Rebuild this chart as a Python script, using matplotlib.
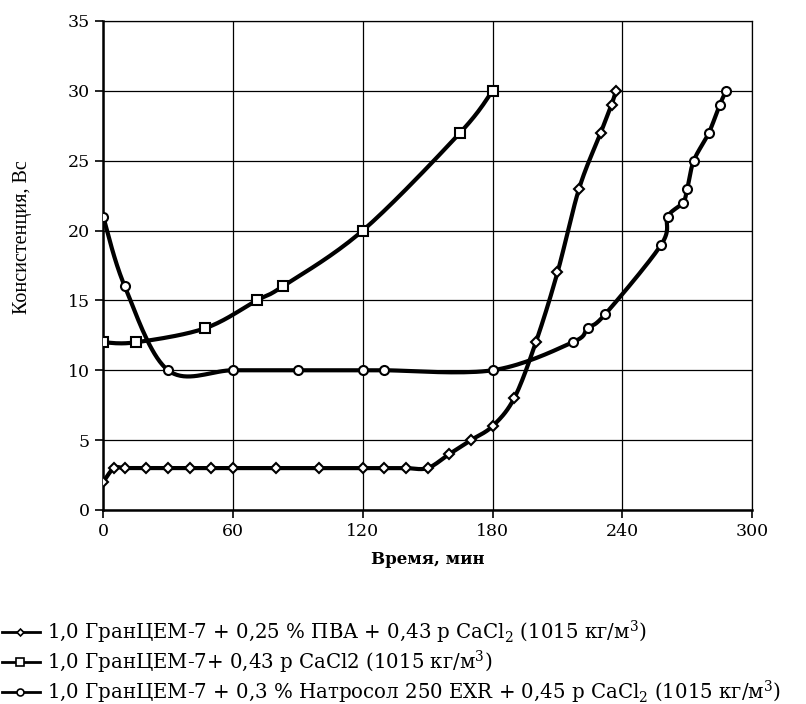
import matplotlib
matplotlib.use('Agg')
import matplotlib.pyplot as plt
from matplotlib.lines import Line2D
import numpy as np

plt.rcParams['font.family'] = ['DejaVu Serif']
plt.rcParams['mathtext.fontset'] = 'dejavuserif'

# ПВА series (diamonds)
t_pva = [0, 5, 10, 20, 30, 40, 50, 60, 80, 100, 120, 130, 140, 150,
         160, 170, 180, 190, 200, 210, 220, 230, 235, 237]
c_pva = [2, 3, 3, 3, 3, 3, 3, 3, 3, 3, 3, 3, 3, 3,
         4, 5, 6, 8, 12, 17, 23, 27, 29, 30]

# CaCl2 only (squares)
t_cacl = [0, 15, 47, 71, 83, 120, 165, 180]
c_cacl = [12, 12, 13, 15, 16, 20, 27, 30]

# Натросол series (circles)
t_nat = [0, 10, 30, 60, 90, 120, 130, 180, 217, 224, 232,
         258, 261, 268, 270, 273, 280, 285, 288]
c_nat = [21, 16, 10, 10, 10, 10, 10, 10, 12, 13, 14,
         19, 21, 22, 23, 25, 27, 29, 30]

labels = [
    '1,0 ГранЦЕМ-7 + 0,25 % ПВА + 0,43 р CaCl$_2$ (1015 кг/м$^3$)',
    '1,0 ГранЦЕМ-7+ 0,43 р CaCl2 (1015 кг/м$^3$)',
    '1,0 ГранЦЕМ-7 + 0,3 % Натросол 250 EXR + 0,45 р CaCl$_2$ (1015 кг/м$^3$)',
]


def smooth(x, y, n=20):
    # Excel-like smoothed line (Catmull-Rom through the points)
    x = np.asarray(x, float)
    y = np.asarray(y, float)
    px = np.concatenate([[x[0]], x, [x[-1]]])
    py = np.concatenate([[y[0]], y, [y[-1]]])
    xs, ys = [], []
    for i in range(1, len(px) - 2):
        p0, p1, p2, p3 = px[i-1], px[i], px[i+1], px[i+2]
        q0, q1, q2, q3 = py[i-1], py[i], py[i+1], py[i+2]
        b1x, b1y = p1 + (p2 - p0) / 6, q1 + (q2 - q0) / 6
        b2x, b2y = p2 - (p3 - p1) / 6, q2 - (q3 - q1) / 6
        s = np.linspace(0, 1, n)
        xs.append((1-s)**3*p1 + 3*(1-s)**2*s*b1x + 3*(1-s)*s**2*b2x + s**3*p2)
        ys.append((1-s)**3*q1 + 3*(1-s)**2*s*b1y + 3*(1-s)*s**2*b2y + s**3*q2)
    return np.concatenate(xs), np.concatenate(ys)


fig = plt.figure(figsize=(8.06, 7.04), dpi=100)
ax = fig.add_axes([0.128, 0.2756, 0.8052, 0.6946])

series = [(t_pva, c_pva, 'D', 5), (t_cacl, c_cacl, 's', 7), (t_nat, c_nat, 'o', 6.5)]
for (t, c, m, ms) in series:
    sx, sy = smooth(t, c)
    ax.plot(sx, sy, color='black', lw=3, zorder=3)
    ax.plot(t, c, ls='none', marker=m, ms=ms, mfc='white', mec='black',
            mew=1.5, zorder=4)

ax.set_xlim(0, 300)
ax.set_ylim(0, 35)
ax.set_xticks(range(0, 301, 60))
ax.set_yticks(range(0, 36, 5))
ax.grid(True, color='black', lw=0.9)
ax.tick_params(direction='out', length=6, width=1.2, labelsize=12.5)
for s in ['top', 'right']:
    ax.spines[s].set_linewidth(0.9)
for s in ['left', 'bottom']:
    ax.spines[s].set_linewidth(1.8)

ax.set_xlabel('Время, мин', fontsize=12, fontweight='bold', labelpad=8)
ax.set_ylabel('Консистенция, Вс', fontsize=14.5, family='Liberation Serif')
ax.yaxis.set_label_coords(-0.11, 0.558)

# legend rows below the plot
W, H = 806, 704
for i, ((t, c, m, ms), lab) in enumerate(zip(series, labels)):
    yy = 1 - (632 + 30 * i) / H
    fig.add_artist(Line2D([2 / W, 40 / W], [yy, yy], color='black', lw=2,
                          transform=fig.transFigure))
    fig.add_artist(Line2D([20 / W], [yy], ls='none', marker=m, ms=ms - 1.5,
                          mfc='white', mec='black', mew=1.2,
                          transform=fig.transFigure))
    fig.text(47 / W, yy, lab, fontsize=14.2, va='center', ha='left')

fig.savefig('out.png', dpi=100)
